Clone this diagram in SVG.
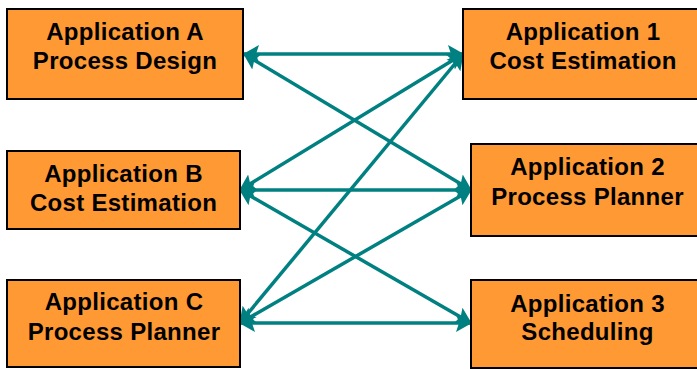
<svg xmlns="http://www.w3.org/2000/svg" width="697" height="369" viewBox="0 0 697 369">
  <style>
    .box { fill: #FF9933; stroke: #000; stroke-width: 2; }
    .lbl { font-family: "Liberation Sans", Arial, sans-serif; font-weight: bold; font-size: 24px; letter-spacing: 0.3px; fill: #000; text-anchor: middle; }
    .link { stroke: #008080; stroke-width: 3.5; fill: none; marker-start: url(#head); marker-end: url(#head); }
  </style>
  <defs>
    <marker id="head" markerUnits="userSpaceOnUse" markerWidth="16" markerHeight="20" viewBox="0 0 16 20" refX="15" refY="10" orient="auto-start-reverse">
      <path d="M0,1 L16,10 L0,19 L3,10 z" fill="#008080"/>
    </marker>
  </defs>
  <rect width="697" height="369" fill="#fff"/>

  <!-- connectors -->
  <g id="connectors">
    <line class="link" x1="244" y1="54" x2="463" y2="54"/>
    <line class="link" x1="244" y1="54" x2="471" y2="190"/>
    <line class="link" x1="240" y1="190" x2="463" y2="54"/>
    <line class="link" x1="240" y1="190" x2="471" y2="190"/>
    <line class="link" x1="240" y1="190" x2="471" y2="323"/>
    <line class="link" x1="240" y1="323" x2="463" y2="54"/>
    <line class="link" x1="240" y1="323" x2="471" y2="190"/>
    <line class="link" x1="240" y1="323" x2="471" y2="323"/>
  </g>

  <!-- left column -->
  <g id="appA">
    <rect class="box" x="7" y="9" width="236" height="90"/>
    <text class="lbl" x="125" y="40">Application A</text>
    <text class="lbl" x="125" y="68.5">Process Design</text>
  </g>
  <g id="appB">
    <rect class="box" x="7" y="151" width="233" height="78"/>
    <text class="lbl" x="123.5" y="181.5">Application B</text>
    <text class="lbl" x="123.5" y="210.5">Cost Estimation</text>
  </g>
  <g id="appC">
    <rect class="box" x="7" y="280" width="233" height="87"/>
    <text class="lbl" x="124" y="310">Application C</text>
    <text class="lbl" x="124" y="340">Process Planner</text>
  </g>

  <!-- right column -->
  <g id="app1">
    <rect class="box" x="463" y="9" width="240" height="90"/>
    <text class="lbl" x="583" y="40">Application 1</text>
    <text class="lbl" x="583" y="68.5">Cost Estimation</text>
  </g>
  <g id="app2">
    <rect class="box" x="471" y="144" width="233" height="92"/>
    <text class="lbl" x="587.5" y="175">Application 2</text>
    <text class="lbl" x="587.5" y="205">Process Planner</text>
  </g>
  <g id="app3">
    <rect class="box" x="471" y="280" width="233" height="88"/>
    <text class="lbl" x="587.5" y="311.5">Application 3</text>
    <text class="lbl" x="587.5" y="340">Scheduling</text>
  </g>
</svg>
